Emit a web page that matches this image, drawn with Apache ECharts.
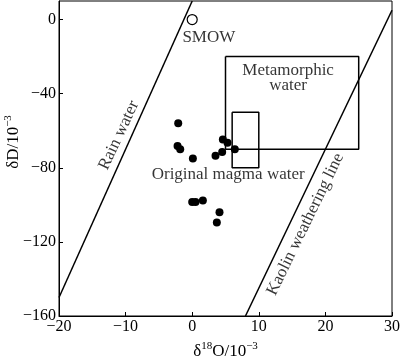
<!DOCTYPE html>
<html>
<head>
<meta charset="utf-8">
<script src="https://cdn.jsdelivr.net/npm/echarts@6/dist/echarts.min.js"></script>
<style>html,body{margin:0;padding:0;background:#fff}#c{width:400px;height:361px}</style>
</head>
<body>
<div id="c"></div>
<script>
// sample points (δ18O, δD)
const samples = [
  [-2.1, -56], [-2.2, -68.3], [-1.8, -70], [0.1, -75],
  [3.5, -73.5], [4.5, -71.5], [4.6, -64.8], [5.3, -66.5], [6.4, -70],
  [0.0, -98.5], [0.5, -98.5], [1.6, -97.7], [4.1, -104], [3.7, -109.5]
];
const smow = [[0, 0]];
// reference lines
const rainLine = [[-20, -150], [0, 10]];
const kaolinLine = [[8, -160], [30, 5]];
// boxes
const metamorphicBox = [[5, -20], [25, -20], [25, -70], [5, -70], [5, -20]];
const magmaBox = [[6, -50], [10, -50], [10, -80], [6, -80], [6, -50]];
// axis ticks
const xTicks = [-20, -10, 0, 10, 20, 30];
const yTicks = [-160, -120, -80, -40, 0];
// text labels: [x, y, text, rotate]
const labels = [
  [2.5, -9.8, 'SMOW', 0],
  [14.4, -31.5, 'Metamorphic\nwater', 0],
  [5.4, -83.8, 'Original magma water', 0],
  [-11.0, -62.5, 'Rain water', 65],
  [17.0, -110.5, 'Kaolin weathering line', 64]
];

const FONT = 'Liberation Serif';
const chart = echarts.init(document.getElementById('c'), null, {renderer: 'canvas'});
const lineStyle = {color: '#000', width: 1.5};
const lineSeries = (d) => ({type: 'line', data: d, symbol: 'none', lineStyle: lineStyle, silent: true, animation: false, z: 2});
const richName = {
  a: {fontFamily: FONT, fontSize: 17, color: '#000', lineHeight: 19, verticalAlign: 'bottom'},
  s: {fontFamily: FONT, fontSize: 11, color: '#000', lineHeight: 19, verticalAlign: 'top'}
};
const tickFmt = v => (v < 0 ? '−' + Math.abs(v) : '' + v);
chart.setOption({
  animation: false,
  grid: {left: 59, right: 8, top: 1, bottom: 45, show: true, borderColor: '#000', borderWidth: 1,
    containLabel: false, outerBoundsMode: 'none'},
  xAxis: {
    type: 'value', min: -20, max: 30, interval: 10,
    name: '{a|δ}{s|18}{a|O/10}{s|−3}', nameLocation: 'middle', nameGap: 25, nameMoveOverlap: false,
    nameTextStyle: {rich: richName},
    axisLine: {onZero: false, lineStyle: {color: '#000', width: 1}},
    axisTick: {inside: true, length: 4, lineStyle: {color: '#000'}, customValues: xTicks},
    axisLabel: {color: '#000', fontFamily: FONT, fontSize: 16, margin: 3, customValues: xTicks, formatter: tickFmt},
    splitLine: {show: false}
  },
  yAxis: {
    type: 'value', min: -160, max: 10, interval: 40,
    name: '{a|δD/10}{s|−3}', nameLocation: 'middle', nameGap: 37, nameMoveOverlap: false,
    nameTextStyle: {rich: richName, padding: [0, 0, 0, 33]},
    axisLine: {onZero: false, lineStyle: {color: '#000', width: 1}},
    axisTick: {inside: true, length: 4, lineStyle: {color: '#000'}, customValues: yTicks},
    axisLabel: {color: '#000', fontFamily: FONT, fontSize: 16, margin: 3, customValues: yTicks, formatter: tickFmt},
    splitLine: {show: false}
  },
  series: [
    lineSeries(rainLine),
    lineSeries(kaolinLine),
    lineSeries(metamorphicBox),
    lineSeries(magmaBox),
    {type: 'scatter', data: samples, symbol: 'circle', symbolSize: 8,
      itemStyle: {color: '#000', opacity: 1}, z: 3},
    {type: 'scatter', data: smow, symbol: 'circle', symbolSize: 10,
      itemStyle: {color: '#fff', borderColor: '#000', borderWidth: 1.2, opacity: 1}, z: 3},
    {type: 'scatter', symbolSize: 0, z: 4, silent: true,
      data: labels.map(l => ({value: [l[0], l[1]], name: l[2],
        label: {show: true, position: 'inside', formatter: l[2], rotate: l[3],
          color: '#000', fontFamily: FONT, fontSize: 17, lineHeight: 15,
          align: 'center', verticalAlign: 'middle'}}))}
  ]
});
</script>
</body>
</html>
